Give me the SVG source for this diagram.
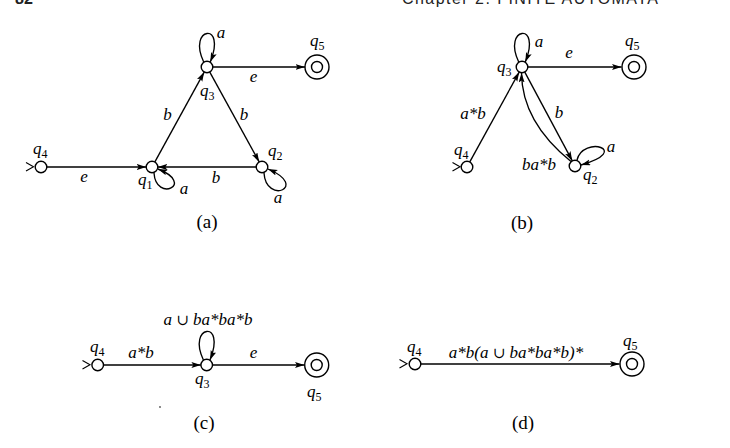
<svg xmlns="http://www.w3.org/2000/svg" width="730" height="448" viewBox="0 0 730 448">
<style>
  .bg { fill: #ffffff; }
  .st { fill: #ffffff; stroke: #000000; stroke-width: 1.4; }
  .ln { fill: none; stroke: #000000; stroke-width: 1.35; marker-end: url(#arr); }
  .start { fill: none; stroke: #000000; stroke-width: 1.1; }
  .t { font-family: "Liberation Serif", "DejaVu Serif", serif; font-style: italic; font-size: 17px; fill: #000000; }
  .m { text-anchor: middle; }
  .s { font-size: 12px; font-style: normal; }
  .u { font-style: normal; font-family: "DejaVu Serif", "Liberation Serif", serif; font-size: 15px; }
  .cap { font-family: "Liberation Serif", "DejaVu Serif", serif; font-size: 19px; fill: #000000; text-anchor: middle; }
  .hdr { font-family: "Liberation Sans", Arial, sans-serif; font-size: 16px; fill: #222222; }
</style>
<defs>
  <marker id="arr" markerUnits="userSpaceOnUse" markerWidth="10" markerHeight="7" refX="9.5" refY="3" orient="auto">
    <path d="M0,0 L9.5,3 L0,6 L2,3 z" fill="#000000"/>
  </marker>
</defs>
<rect class="bg" x="0" y="0" width="730" height="448"/>

<!-- running header (cut off at top of page) -->
<g id="header">
  <text class="hdr" x="15" y="4" font-weight="bold">82</text>
  <text class="hdr" x="402" y="4" textLength="256" lengthAdjust="spacing">Chapter 2: FINITE AUTOMATA</text>
</g>

<!-- connectors -->
<g id="connectors">
  <!-- (a) -->
  <path class="ln" d="M46.8,167 L146.2,167"/>
  <path class="ln" d="M256.2,167 L157.8,167"/>
  <path class="ln" d="M154.9,161.9 L204.2,72.1"/>
  <path class="ln" d="M209.8,72.1 L259.2,161.9"/>
  <path class="ln" d="M212.8,67 L305,67"/>
  <path class="ln" d="M203.7,62 C187,27 227,21 210.3,62"/>
  <path class="ln" d="M154,173 C156,203 196,184 158,169"/>
  <path class="ln" d="M264,173 C266,205 310,187 268,169"/>
  <!-- (b) -->
  <path class="ln" d="M469.8,161.9 L519.2,72.1"/>
  <path class="ln" d="M524.8,72.1 L572.3,160.9"/>
  <path class="ln" d="M571,161.5 Q522,122 521.5,73"/>
  <path class="ln" d="M527.8,67 L621.5,67"/>
  <path class="ln" d="M518.7,62 C502,27 542,21 525.3,62"/>
  <path class="ln" d="M577,160 C583,135 633,150 581,165"/>
  <!-- (c) -->
  <path class="ln" d="M103.5,365 L200.9,365"/>
  <path class="ln" d="M212.5,365 L304.5,365"/>
  <path class="ln" d="M203.4,360 C186.7,325 226.7,319 210,360"/>
  <!-- (d) -->
  <path class="ln" d="M420.8,364 L619.5,364"/>
</g>

<!-- edge labels -->
<g id="edge-labels">
  <text class="t m" x="221" y="38">a</text>
  <text class="t m" x="253.5" y="82">e</text>
  <text class="t m" x="167.5" y="120">b</text>
  <text class="t m" x="244" y="120">b</text>
  <text class="t m" x="84" y="182">e</text>
  <text class="t m" x="216" y="183">b</text>
  <text class="t m" x="184" y="194">a</text>
  <text class="t m" x="278" y="203">a</text>

  <text class="t m" x="539" y="47">a</text>
  <text class="t m" x="569" y="58">e</text>
  <text class="t m" x="473" y="119">a*b</text>
  <text class="t m" x="559" y="118">b</text>
  <text class="t m" x="539" y="170">ba*b</text>
  <text class="t m" x="611" y="152">a</text>

  <text class="t m" x="208" y="325">a <tspan class="u">∪</tspan> ba*ba*b</text>
  <text class="t m" x="141" y="358">a*b</text>
  <text class="t m" x="253.5" y="358">e</text>

  <text class="t m" x="516" y="358">a*b(a <tspan class="u">∪</tspan> ba*ba*b)*</text>
</g>

<!-- panel (a) nodes -->
<g id="a-q4">
  <polyline class="start" points="26,162.5 33.5,166.8 26,171"/>
  <circle class="st" cx="41" cy="167" r="5.8"/>
  <text class="t" x="33" y="154">q<tspan class="s" dy="4">4</tspan></text>
</g>
<g id="a-q1">
  <circle class="st" cx="152" cy="167" r="5.8"/>
  <text class="t" x="138" y="185">q<tspan class="s" dy="4">1</tspan></text>
</g>
<g id="a-q2">
  <circle class="st" cx="262" cy="167" r="5.8"/>
  <text class="t" x="268" y="156">q<tspan class="s" dy="4">2</tspan></text>
</g>
<g id="a-q3">
  <circle class="st" cx="207" cy="67" r="5.8"/>
  <text class="t" x="200" y="96">q<tspan class="s" dy="4">3</tspan></text>
</g>
<g id="a-q5">
  <circle class="st" cx="317" cy="67" r="12"/>
  <circle class="st" cx="317" cy="67" r="5.5"/>
  <text class="t" x="310" y="46">q<tspan class="s" dy="4">5</tspan></text>
</g>
<text class="cap" x="207" y="228">(a)</text>

<!-- panel (b) nodes -->
<g id="b-q4">
  <polyline class="start" points="452.5,162.5 460,166.8 452.5,171"/>
  <circle class="st" cx="467" cy="167" r="5.8"/>
  <text class="t" x="454" y="155">q<tspan class="s" dy="4">4</tspan></text>
</g>
<g id="b-q3">
  <circle class="st" cx="522" cy="67" r="5.8"/>
  <text class="t" x="497" y="72">q<tspan class="s" dy="4">3</tspan></text>
</g>
<g id="b-q2">
  <circle class="st" cx="575" cy="166" r="5.8"/>
  <text class="t" x="583" y="180">q<tspan class="s" dy="4">2</tspan></text>
</g>
<g id="b-q5">
  <circle class="st" cx="634" cy="67" r="12"/>
  <circle class="st" cx="634" cy="67" r="5.5"/>
  <text class="t" x="625" y="46">q<tspan class="s" dy="4">5</tspan></text>
</g>
<text class="cap" x="522" y="229">(b)</text>

<!-- panel (c) nodes -->
<g id="c-q4">
  <polyline class="start" points="82.5,360.5 90,364.8 82.5,369"/>
  <circle class="st" cx="97.7" cy="365" r="5.8"/>
  <text class="t" x="90" y="352">q<tspan class="s" dy="4">4</tspan></text>
</g>
<g id="c-q3">
  <circle class="st" cx="206.7" cy="365" r="5.8"/>
  <text class="t" x="195" y="384">q<tspan class="s" dy="4">3</tspan></text>
</g>
<g id="c-q5">
  <circle class="st" cx="316.7" cy="365" r="12"/>
  <circle class="st" cx="316.7" cy="365" r="5.5"/>
  <text class="t" x="307" y="397">q<tspan class="s" dy="4">5</tspan></text>
</g>
<circle cx="160" cy="407" r="0.9" fill="#555555"/>
<text class="cap" x="204" y="429">(c)</text>

<!-- panel (d) nodes -->
<g id="d-q4">
  <polyline class="start" points="399.5,359.5 407,363.8 399.5,368"/>
  <circle class="st" cx="415" cy="364" r="5.8"/>
  <text class="t" x="407" y="352">q<tspan class="s" dy="4">4</tspan></text>
</g>
<g id="d-q5">
  <circle class="st" cx="632" cy="364" r="12"/>
  <circle class="st" cx="632" cy="364" r="5.5"/>
  <text class="t" x="623" y="346">q<tspan class="s" dy="4">5</tspan></text>
</g>
<text class="cap" x="523" y="429">(d)</text>
</svg>
